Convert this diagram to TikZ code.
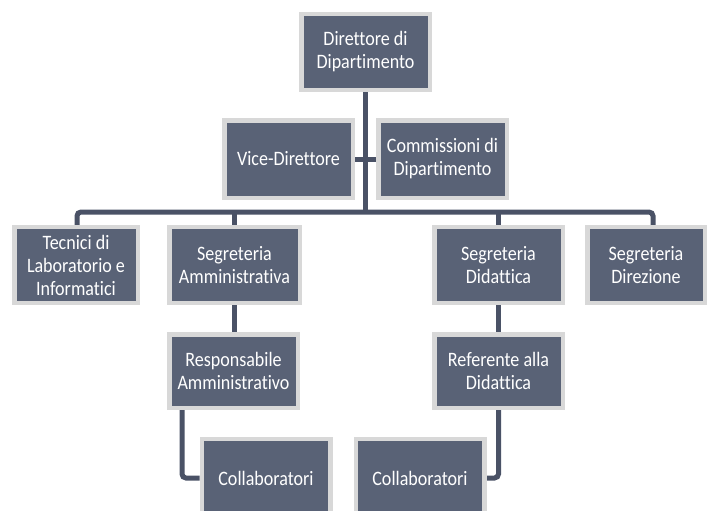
\documentclass[tikz,border=0pt]{standalone}
\usepackage{fontspec}
\setmainfont{Carlito}[FakeStretch=0.88,Ligatures=NoCommon]
\usetikzlibrary{backgrounds}
\definecolor{boxfill}{RGB}{89,98,118}
\definecolor{boxedge}{RGB}{216,216,216}
\definecolor{linecol}{RGB}{74,82,102}
\tikzset{ufficio/.style={draw=boxedge,line width=4.5pt,fill=boxfill,text=white,align=center,
    minimum width=128.5pt,minimum height=76pt,inner sep=2pt,font=\fontsize{20.5}{23}\selectfont},
  legame/.style={draw=linecol,line width=5pt}}
\begin{document}
\begin{tikzpicture}[x=1pt,y=-1pt]
        \useasboundingbox (0,0) rectangle (709,511);
        \clip (0,0) rectangle (709,511);
        \node[ufficio] (dir) at (365.5,52) {Direttore di\\Dipartimento};
        \node[ufficio,minimum height=77.5pt] (vice) at (288.5,159) {Vice-Direttore};
        \node[ufficio,minimum height=77.5pt] (comm) at (442.5,159) {Commissioni di\\Dipartimento};
        \node[ufficio,minimum width=123.5pt] (tec) at (76,265) {Tecnici di\\Laboratorio e\\Informatici};
        \node[ufficio,minimum width=130.5pt] (samm) at (234.5,265) {Segreteria\\Amministrativa};
        \node[ufficio] (sdid) at (498.5,265) {Segreteria\\Didattica};
        \node[ufficio,minimum width=117.5pt] (sdir) at (646,265) {Segreteria\\Direzione};
        \node[ufficio,minimum height=73.5pt] (resp) at (233.5,371) {Responsabile\\Amministrativo};
        \node[ufficio,minimum height=73.5pt] (ref) at (498.5,371) {Referente alla\\Didattica};
        \node[ufficio,minimum height=78pt] (col1) at (266,478) {Collaboratori};
        \node[ufficio,minimum height=78pt] (col2) at (420,478) {Collaboratori};
        \begin{scope}[on background layer]
        \coordinate (bus) at (365,212);
        \draw[legame] (dir.south) -- (dir.south |- bus);
        \draw[legame] (vice) -- (comm);
        \draw[legame,rounded corners=4pt] ([xshift=1pt]tec.north) |- (bus) -| ([xshift=7pt]sdir.north);
        \draw[legame] (samm.north) -- (samm.north |- bus);
        \draw[legame] (sdid.north) -- (sdid.north |- bus);
        \draw[legame] (samm.south) -- (samm.south |- resp.north);
        \draw[legame] (sdid.south) -- (sdid.south |- ref.north);
        \draw[legame,rounded corners=4pt] ([xshift=15pt]resp.south west) |- (col1);
        \draw[legame,rounded corners=4pt] (ref.south) |- (col2);
        \end{scope}
\end{tikzpicture}
\end{document}
